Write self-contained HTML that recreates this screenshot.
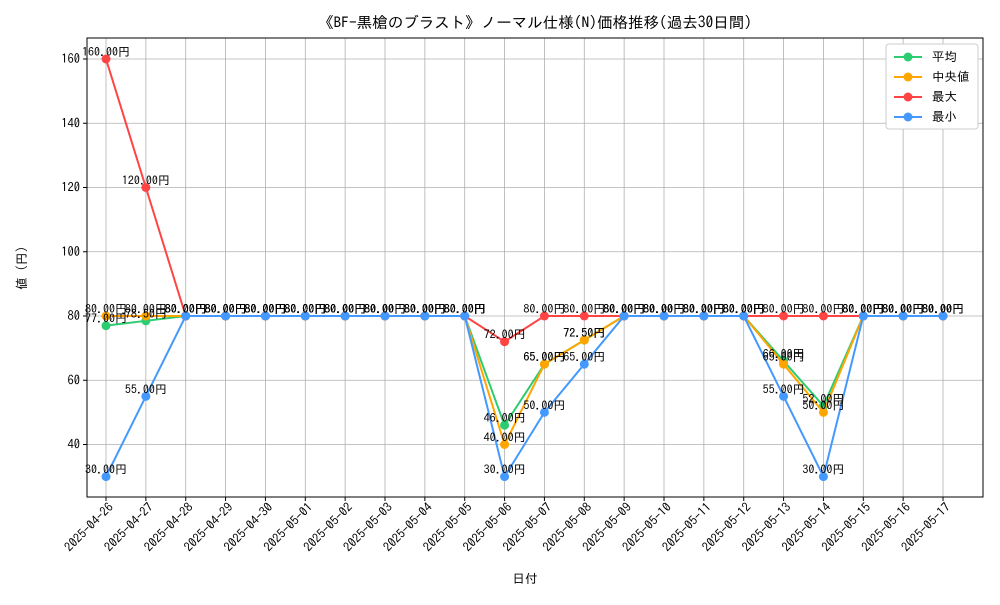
<!DOCTYPE html>
<html><head><meta charset="utf-8"><style>
body{margin:0;background:#fff}
text{font-family:"IPAGothic","Noto Sans CJK JP",sans-serif}
</style></head><body>
<svg id="chart" width="1000" height="600" xmlns="http://www.w3.org/2000/svg"></svg>
<script>
const dates=["2025-04-26","2025-04-27","2025-04-28","2025-04-29","2025-04-30","2025-05-01","2025-05-02","2025-05-03","2025-05-04","2025-05-05","2025-05-06","2025-05-07","2025-05-08","2025-05-09","2025-05-10","2025-05-11","2025-05-12","2025-05-13","2025-05-14","2025-05-15","2025-05-16","2025-05-17"];
const avgVals=[77,78.5,80,80,80,80,80,80,80,80,46,65,72.5,80,80,80,80,66,52,80,80,80];
const medVals=[80,80,80,80,80,80,80,80,80,80,40,65,72.5,80,80,80,80,65,50,80,80,80];
const maxVals=[160,120,80,80,80,80,80,80,80,80,72,80,80,80,80,80,80,80,80,80,80,80];
const minVals=[30,55,80,80,80,80,80,80,80,80,30,50,65,80,80,80,80,55,30,80,80,80];
const yTicks=[40,60,80,100,120,140,160];
const seriesNames=["平均","中央値","最大","最小"];
const colors=["#2ecc71","#ffa500","#ff4444","#4499ff"];
const L=87,R=983,T=38,B=497;
const x=i=>106+i*(943-106)/(dates.length-1);
const y=v=>316-(v-80)*3.2125;
const svg=document.getElementById('chart');
const NS="http://www.w3.org/2000/svg";
function mk(tag,attrs,parent){const e=document.createElementNS(NS,tag);for(const k in attrs)e.setAttribute(k,attrs[k]);(parent||svg).appendChild(e);return e;}
dates.forEach((d,i)=>{
 const g=mk('line',{x1:x(i),x2:x(i),y1:T,y2:B,stroke:'#b0b0b0','stroke-width':0.8});
 
 
 const t=mk('line',{x1:x(i),x2:x(i),y1:B,y2:B+4,stroke:'#000'});
 
 
 const lb=mk('text',{x:0,y:0,'font-size':12.5,'text-anchor':'end',transform:`translate(${x(i)+8},${B+11}) rotate(-45)`});
 lb.textContent=d;
 
 
});
yTicks.forEach(v=>{
 const g=mk('line',{x1:L,x2:R,y1:y(v),y2:y(v),stroke:'#b0b0b0','stroke-width':0.8});
 
 
 mk('line',{x1:L-4,x2:L,y1:y(v),y2:y(v),stroke:'#000'});
 const lb=mk('text',{x:L-7,y:y(v)+4,'font-size':12.5,'text-anchor':'end'});
 lb.textContent=v;
 
 
});
const frame=mk('rect',{x:L,y:T,width:R-L,height:B-T,fill:'none',stroke:'#000','stroke-width':1});


const all=[avgVals,medVals,maxVals,minVals];
const keys=['average','median','max','min'];
all.forEach((vals,s)=>{
 const p=mk('polyline',{points:vals.map((v,i)=>x(i)+','+y(v)).join(' '),fill:'none',stroke:colors[s],'stroke-width':2});
 
 
 vals.forEach((v,i)=>{
  const c=mk('circle',{cx:x(i),cy:y(v),r:4.5,fill:colors[s]});
  
  
 });
});
all.forEach((vals,s)=>{
 vals.forEach((v,i)=>{
  const t=mk('text',{x:x(i),y:y(v)-3,'font-size':12,'text-anchor':'middle'});
  t.textContent=v.toFixed(2)+'円';
  
  
 });
});
const title=mk('text',{x:535,y:28,'font-size':15.5,'text-anchor':'middle'});
title.textContent='《BF-黒槍のブラスト》ノーマル仕様(N)価格推移(過去30日間)';


const xt=mk('text',{x:525,y:583,'font-size':12.5,'text-anchor':'middle'});
xt.textContent='日付';


const yt=mk('text',{x:0,y:0,'font-size':12.5,'text-anchor':'middle',transform:'translate(26,268) rotate(-90)'});
yt.textContent='値 (円)';


const lg=mk('g',{});


mk('rect',{x:886,y:44,width:92,height:85,fill:'#fff',stroke:'#ccc',rx:3},lg);
seriesNames.forEach((n,s)=>{
 const yy=57+s*20;
 const e=mk('g',{},lg);
 
 
 mk('line',{x1:894,x2:922,y1:yy,y2:yy,stroke:colors[s],'stroke-width':2},e);
 mk('circle',{cx:908,cy:yy,r:4.5,fill:colors[s]},e);
 const t=mk('text',{x:932,y:yy+4,'font-size':12.5},e);
 t.textContent=n;
});
</script>
</body></html>
